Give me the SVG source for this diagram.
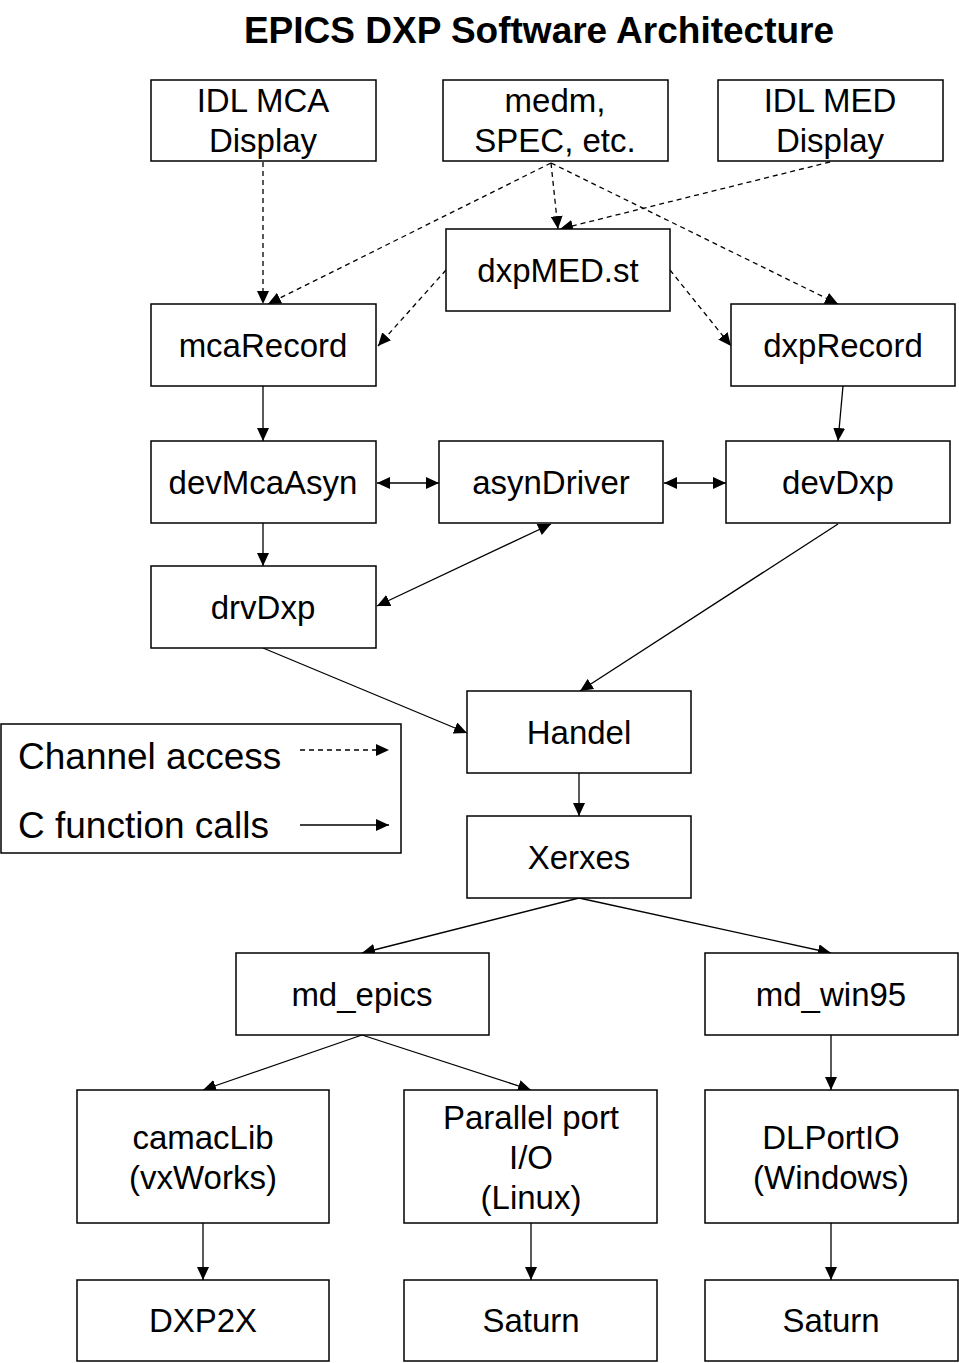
<svg xmlns="http://www.w3.org/2000/svg" width="959" height="1363" viewBox="0 0 959 1363">
<style>
.box{fill:#fff;stroke:#000;stroke-width:1.5}
.t{font-family:"Liberation Sans",Arial,sans-serif;font-size:33px;text-anchor:middle;fill:#000}
.title{font-family:"Liberation Sans",Arial,sans-serif;font-size:37px;font-weight:bold;text-anchor:middle;fill:#000}
.lt{font-family:"Liberation Sans",Arial,sans-serif;font-size:37px;fill:#000}
.c{stroke:#000;stroke-width:1.3;fill:none;marker-end:url(#ah)}
.d{stroke:#000;stroke-width:1.3;fill:none;stroke-dasharray:5 4;marker-end:url(#ah)}
.b{marker-start:url(#ahs)}
</style>
<defs>
<marker id="ah" markerUnits="userSpaceOnUse" markerWidth="14" markerHeight="12" refX="13" refY="6" orient="auto"><path d="M0,0 L13,6 L0,12 Z" fill="#000"/></marker>
<marker id="ahs" markerUnits="userSpaceOnUse" markerWidth="14" markerHeight="12" refX="0" refY="6" orient="auto"><path d="M13,0 L0,6 L13,12 Z" fill="#000"/></marker>
</defs>
<rect width="959" height="1363" fill="#fff"/>
<text class="title" x="539" y="43">EPICS DXP Software Architecture</text>

<g id="connectors">
<line class="d" x1="263" y1="162" x2="263" y2="304"/>
<line class="d" x1="551" y1="163" x2="268" y2="304"/>
<line class="d" x1="551" y1="163" x2="558" y2="229"/>
<line class="d" x1="551" y1="163" x2="838" y2="304"/>
<line class="d" x1="830" y1="162" x2="560" y2="229"/>
<line class="d" x1="446" y1="270" x2="378" y2="346"/>
<line class="d" x1="670" y1="270" x2="731" y2="346"/>
<line class="c" x1="263" y1="386" x2="263" y2="441"/>
<line class="c" x1="843" y1="386" x2="838" y2="441"/>
<line class="c b" x1="377" y1="483" x2="439" y2="483"/>
<line class="c b" x1="664" y1="483" x2="726" y2="483"/>
<line class="c" x1="263" y1="523" x2="263" y2="566"/>
<line class="c b" x1="551" y1="524" x2="377" y2="606"/>
<line class="c" x1="838" y1="524" x2="580" y2="691"/>
<line class="c" x1="263" y1="648" x2="467" y2="733"/>
<line class="c" x1="579" y1="773" x2="579" y2="816"/>
<line class="c" x1="579" y1="898" x2="362" y2="953"/>
<line class="c" x1="579" y1="898" x2="831" y2="953"/>
<line class="c" x1="362" y1="1035" x2="203" y2="1090"/>
<line class="c" x1="362" y1="1035" x2="531" y2="1090"/>
<line class="c" x1="831" y1="1035" x2="831" y2="1090"/>
<line class="c" x1="203" y1="1223" x2="203" y2="1280"/>
<line class="c" x1="531" y1="1223" x2="531" y2="1280"/>
<line class="c" x1="831" y1="1223" x2="831" y2="1280"/>
</g>

<g id="idlmca"><rect class="box" x="151" y="80" width="225" height="81"/><text class="t" x="263" y="112">IDL MCA</text><text class="t" x="263" y="152">Display</text></g>
<g id="medm"><rect class="box" x="443" y="80" width="225" height="81"/><text class="t" x="555" y="112">medm,</text><text class="t" x="555" y="152">SPEC, etc.</text></g>
<g id="idlmed"><rect class="box" x="718" y="80" width="225" height="81"/><text class="t" x="830" y="112">IDL MED</text><text class="t" x="830" y="152">Display</text></g>
<g id="dxpmed"><rect class="box" x="446" y="229" width="224" height="82"/><text class="t" x="558" y="282">dxpMED.st</text></g>
<g id="mcarecord"><rect class="box" x="151" y="304" width="225" height="82"/><text class="t" x="263" y="357">mcaRecord</text></g>
<g id="dxprecord"><rect class="box" x="731" y="304" width="224" height="82"/><text class="t" x="843" y="357">dxpRecord</text></g>
<g id="devmcaasyn"><rect class="box" x="151" y="441" width="225" height="82"/><text class="t" x="263" y="494">devMcaAsyn</text></g>
<g id="asyndriver"><rect class="box" x="439" y="441" width="224" height="82"/><text class="t" x="551" y="494">asynDriver</text></g>
<g id="devdxp"><rect class="box" x="726" y="441" width="224" height="82"/><text class="t" x="838" y="494">devDxp</text></g>
<g id="drvdxp"><rect class="box" x="151" y="566" width="225" height="82"/><text class="t" x="263" y="619">drvDxp</text></g>
<g id="handel"><rect class="box" x="467" y="691" width="224" height="82"/><text class="t" x="579" y="744">Handel</text></g>
<g id="xerxes"><rect class="box" x="467" y="816" width="224" height="82"/><text class="t" x="579" y="869">Xerxes</text></g>
<g id="legend"><rect class="box" x="1" y="724" width="400" height="129"/><text class="lt" x="18" y="769">Channel access</text><text class="lt" x="18" y="838">C function calls</text>
<line class="d" x1="300" y1="750" x2="389" y2="750"/><line class="c" x1="300" y1="825" x2="389" y2="825"/></g>
<g id="mdepics"><rect class="box" x="236" y="953" width="253" height="82"/><text class="t" x="362" y="1006">md_epics</text></g>
<g id="mdwin95"><rect class="box" x="705" y="953" width="253" height="82"/><text class="t" x="831" y="1006">md_win95</text></g>
<g id="camaclib"><rect class="box" x="77" y="1090" width="252" height="133"/><text class="t" x="203" y="1149">camacLib</text><text class="t" x="203" y="1189">(vxWorks)</text></g>
<g id="parallel"><rect class="box" x="404" y="1090" width="253" height="133"/><text class="t" x="531" y="1129">Parallel port</text><text class="t" x="531" y="1169">I/O</text><text class="t" x="531" y="1209">(Linux)</text></g>
<g id="dlportio"><rect class="box" x="705" y="1090" width="253" height="133"/><text class="t" x="831" y="1149">DLPortIO</text><text class="t" x="831" y="1189">(Windows)</text></g>
<g id="dxp2x"><rect class="box" x="77" y="1280" width="252" height="81"/><text class="t" x="203" y="1332">DXP2X</text></g>
<g id="saturn1"><rect class="box" x="404" y="1280" width="253" height="81"/><text class="t" x="531" y="1332">Saturn</text></g>
<g id="saturn2"><rect class="box" x="705" y="1280" width="253" height="81"/><text class="t" x="831" y="1332">Saturn</text></g>
</svg>
